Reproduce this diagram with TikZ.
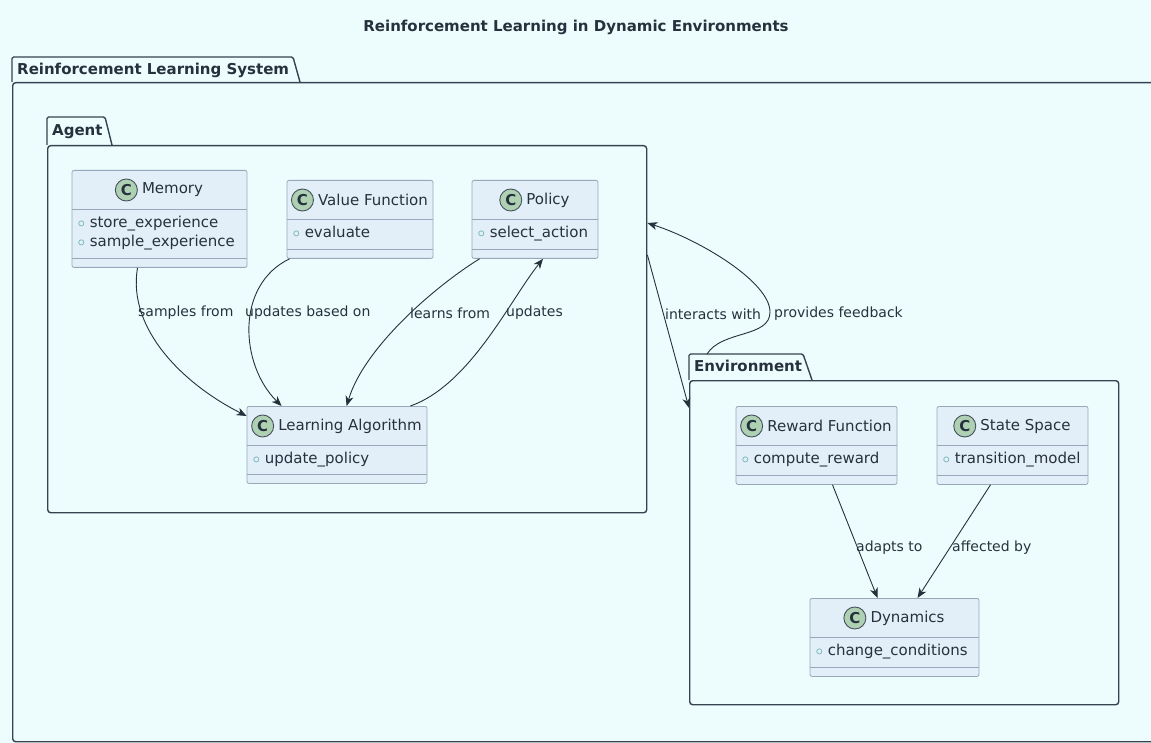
\documentclass[tikz,border=0pt]{standalone}
\usepackage{fontspec}
\setmainfont{DejaVu Sans}
\usetikzlibrary{positioning,arrows.meta}

\definecolor{pagebg}{HTML}{EDFDFD}
\definecolor{classfill}{HTML}{E2EFF9}
\definecolor{classline}{HTML}{98A7B9}
\definecolor{spotfill}{HTML}{ADD1B2}
\definecolor{attrc}{HTML}{3E9A98}
\definecolor{inkc}{HTML}{27313D}
\definecolor{pkgc}{HTML}{36424F}

\tikzset{
  classbox/.style={draw=classline, fill=classfill, line width=0.8pt, rounded corners=2pt, inner sep=0pt},
  classsep/.style={draw=classline, line width=0.8pt},
  classname/.style={inner sep=0pt, font=\fontsize{15}{18}\selectfont, text=inkc},
  classspot/.style={circle, draw=inkc!85, fill=spotfill, line width=0.9pt, minimum size=22pt, inner sep=0pt, font=\fontsize{15}{18}\selectfont\bfseries, text=inkc},
  classattr/.style={inner sep=2pt, align=left, font=\fontsize{15}{19}\selectfont, text=inkc},
  pkgframe/.style={draw=pkgc, line width=1.4pt, rounded corners=3pt, inner sep=0pt},
  pkgtab/.style={draw=pkgc, line width=1.4pt, rounded corners=1.5pt},
  pkglabel/.style={inner sep=0pt, font=\fontsize{15}{18}\selectfont\bfseries, text=inkc},
  relation/.style={draw=inkc, line width=0.9pt, -{Stealth[length=10pt, width=8pt, inset=3pt]}},
  rellabel/.style={inner sep=0pt, anchor=west, font=\fontsize{14}{17}\selectfont, text=inkc},
}

% one attribute line: small ring, then the name
\newcommand{\attr}[1]{\textcolor{attrc}{$\circ$}\ #1}
% class box: name, centre x, top, width, height, title, attributes
\newcommand{\umlclass}[7]{%
  \node[classbox, minimum width=#4, minimum height=#5, anchor=north] (#1) at (#2,#3) {};
  \node[classname] (#1t) at ([xshift=13pt, yshift=-20pt]#1.north) {#6};
  \node[classspot, left=4pt of #1t] (#1s) {C};
  \draw[classsep] ([yshift=-39pt]#1.north west) -- ([yshift=-39pt]#1.north east);
  \draw[classsep] ([yshift=9pt]#1.south west) -- ([yshift=9pt]#1.south east);
  \node[classattr, anchor=north west] (#1a) at ([xshift=4pt, yshift=-44pt]#1.north west) {#7};
}

\begin{document}
\begin{tikzpicture}[x=1pt, y=-1pt]
  \useasboundingbox (0,0) rectangle (1151,743);
  \fill[pagebg] (0,0) rectangle (1151,743);
  \clip (0,0) rectangle (1151,743);

  \node[font=\fontsize{15}{18}\selectfont\bfseries, text=inkc] (title) at (576,27) {Reinforcement Learning in Dynamic Environments};

  % outer package
  \node[pkgframe, minimum width=1160, minimum height=659, anchor=north west] (rlsys) at (12,82) {};
  \draw[pkgtab] (rlsys.north west) -- ++(0,-25) -- ++(281,0) -- ++(7,25);
  \node[pkglabel, anchor=base west] (rlsysname) at (17,75) {Reinforcement Learning System};

  % Agent package
  \node[pkgframe, minimum width=599, minimum height=367, anchor=north west] (agent) at (47,145) {};
  \draw[pkgtab] (agent.north west) -- ++(0,-28) -- ++(58,0) -- ++(7,28);
  \node[pkglabel, anchor=base west] (agentname) at (52,136) {Agent};

  % Environment package
  \node[pkgframe, minimum width=429, minimum height=324, anchor=north west] (env) at (689,380) {};
  \draw[pkgtab] (env.north west) -- ++(0,-26) -- ++(114,0) -- ++(9,26);
  \node[pkglabel, anchor=base west] (envname) at (694,371) {Environment};

  % classes of the agent
  \umlclass{memory}{159.5}{170}{175}{97}{Memory}{\attr{store\_experience}\\\attr{sample\_experience}}
  \umlclass{valuefn}{360}{180}{146}{78}{Value Function}{\attr{evaluate}}
  \umlclass{policy}{535}{180}{126}{78}{Policy}{\attr{select\_action}}
  \umlclass{learnalg}{337}{406}{180}{77}{Learning Algorithm}{\attr{update\_policy}}

  % classes of the environment
  \umlclass{reward}{816.5}{406}{161}{78}{Reward Function}{\attr{compute\_reward}}
  \umlclass{state}{1012.5}{406}{151}{78}{State Space}{\attr{transition\_model}}
  \umlclass{dynamics}{894.5}{598}{169}{78}{Dynamics}{\attr{change\_conditions}}

  % relations inside the agent
  \draw[relation] ([xshift=-22pt]memory.south) .. controls (127,330) and (185,385) .. ([yshift=-10pt]learnalg.north west);
  \draw[relation] ([xshift=3pt]valuefn.south west) .. controls (235,285) and (240,365) .. ([xshift=35pt]learnalg.north west);
  \draw[relation] ([xshift=8pt]policy.south west) .. controls (440,283) and (365,345) .. ([xshift=100pt]learnalg.north west);
  \draw[relation] ([xshift=-17pt]learnalg.north east) .. controls (470,385) and (510,300) .. ([xshift=8pt]policy.south);

  \node[rellabel] (lblsamples) at (138,313) {samples from};
  \node[rellabel] (lblbased) at (245,313) {updates based on};
  \node[rellabel] (lbllearns) at (410,313) {learns from};
  \node[rellabel] (lblupdates) at (506,313) {updates};

  % agent <-> environment
  \coordinate (feedbackbend) at (770,312);
  \draw[relation] ([yshift=-110pt]agent.north east) -- ([yshift=-28pt]env.north west);
  \draw[relation] ([shift={(18pt,26pt)}]env.north west) .. controls (722,330) and (770,338) .. (feedbackbend)
    .. controls (770,282) and (700,240) .. ([yshift=-78pt]agent.north east);
  \node[rellabel] (lblinteracts) at (665,314) {interacts with};
  \node[rellabel] (lblfeedback) at (774,314) {provides feedback};

  % relations inside the environment
  \draw[relation] ([xshift=16pt]reward.south) -- ([xshift=-17pt]dynamics.north);
  \draw[relation] ([xshift=-22pt]state.south) -- ([xshift=23pt]dynamics.north);
  \node[rellabel] (lbladapts) at (856,548) {adapts to};
  \node[rellabel] (lblaffected) at (952,548) {affected by};
\end{tikzpicture}
\end{document}
